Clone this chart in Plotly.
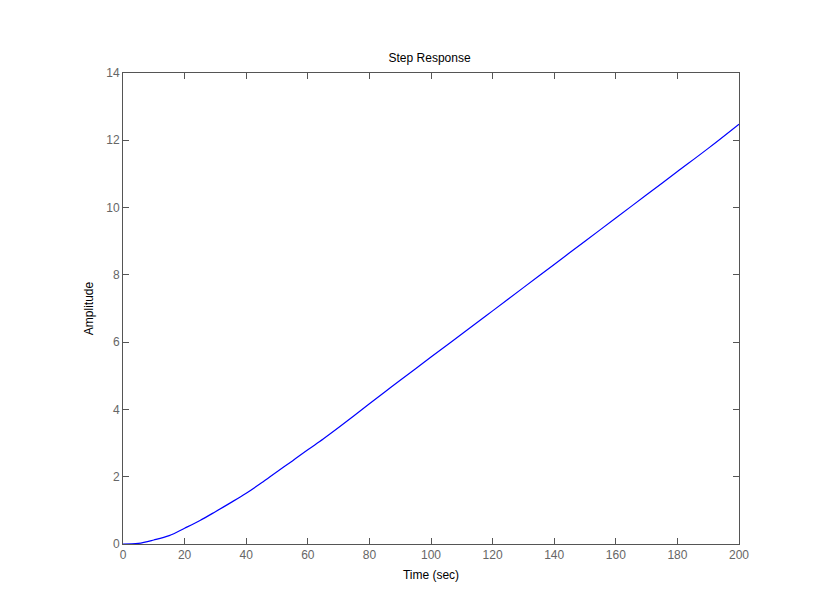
import plotly.graph_objects as go

time_s = [0, 5, 10, 15, 20, 25, 30, 35, 40, 45, 50, 55, 60, 65, 70, 75, 80, 85, 90,
          95, 100, 110, 120, 130, 140, 150, 160, 170, 180, 190, 200]
amplitude = [0, 0.02, 0.12, 0.25, 0.47, 0.70, 0.96, 1.23, 1.51, 1.82, 2.15, 2.47,
             2.80, 3.12, 3.46, 3.81, 4.17, 4.52, 4.87, 5.21, 5.56, 6.24, 6.93, 7.62,
             8.31, 9.00, 9.69, 10.38, 11.07, 11.76, 12.48]

x_ticks = [0, 20, 40, 60, 80, 100, 120, 140, 160, 180, 200]
y_ticks = [0, 2, 4, 6, 8, 10, 12, 14]

fig = go.Figure()
fig.add_trace(go.Scatter(x=time_s, y=amplitude, mode="lines", line_shape="spline",
                         line=dict(color="#0000ff", width=1.2), showlegend=False))

axis_common = dict(showgrid=False, zeroline=False, showline=True, mirror="ticks",
                   linecolor="#555555", linewidth=1, ticks="inside", ticklen=6,
                   tickcolor="#555555", tickfont=dict(size=12, color="#666666"))

fig.update_layout(
    width=817, height=612,
    margin=dict(l=115, r=86, t=65, b=76),
    paper_bgcolor="white", plot_bgcolor="white",
    font=dict(family="Liberation Sans, Arial, sans-serif", color="#000000"),
    title=dict(text="Step Response", x=0.516, xanchor="center", y=0.918,
               yanchor="middle", font=dict(size=12, color="#000000")),
    xaxis=dict(range=[0, 200], tickvals=x_ticks,
               title=dict(text="Time (sec)", font=dict(size=12, color="#000000"), standoff=9),
               **axis_common),
    yaxis=dict(range=[0, 14], tickvals=y_ticks,
               title=dict(text="Amplitude", font=dict(size=12, color="#000000"), standoff=10),
               **axis_common),
)

fig.write_html("out.html")
